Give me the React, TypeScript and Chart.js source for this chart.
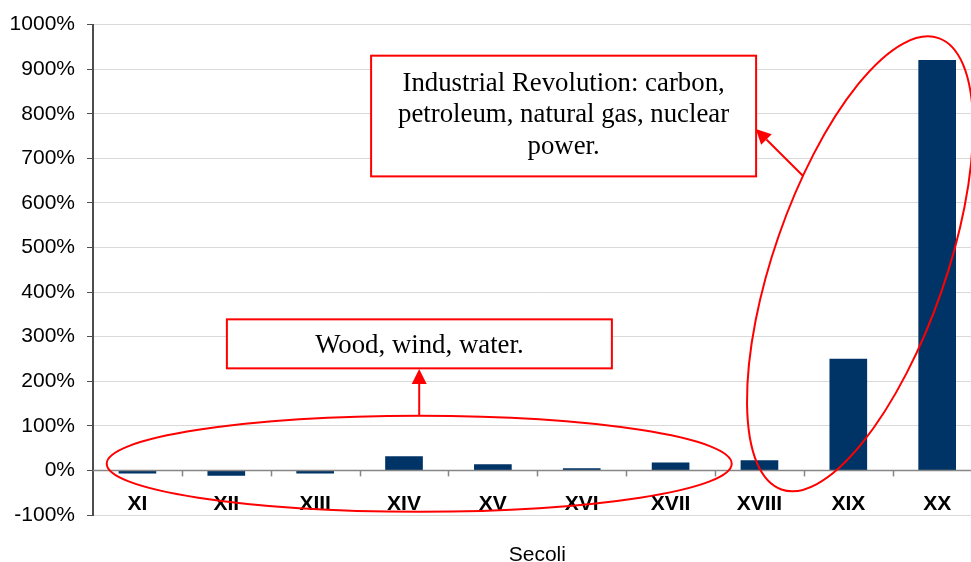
import React, { useEffect, useRef } from "react";
import { Chart, registerables } from "chart.js";

Chart.register(...registerables);

// ---- data ----
const categories = ["XI", "XII", "XIII", "XIV", "XV", "XVI", "XVII", "XVIII", "XIX", "XX"];
const growthPercent = [-6, -11, -6, 31, 13, 4, 17, 22, 250, 920];
const yMin = -100;
const yMax = 1000;
const yStep = 100;
const xAxisTitle = "Secoli";
const noteEarly = ["Wood, wind, water."];
const noteIndustrial = ["Industrial Revolution: carbon,", "petroleum, natural gas, nuclear", "power."];

const RED = "#ff0000";
const SANS = '"Liberation Sans", Arial, sans-serif';
const SERIF = '"Liberation Serif", "Times New Roman", serif';

function arrow(ctx: CanvasRenderingContext2D, x1: number, y1: number, x2: number, y2: number) {
  const ang = Math.atan2(y2 - y1, x2 - x1);
  const len = 15;
  const hw = 7.5;
  const bx = x2 - len * Math.cos(ang);
  const by = y2 - len * Math.sin(ang);
  ctx.beginPath();
  ctx.moveTo(x1, y1);
  ctx.lineTo(bx, by);
  ctx.stroke();
  ctx.beginPath();
  ctx.moveTo(x2, y2);
  ctx.lineTo(bx + hw * Math.sin(ang), by - hw * Math.cos(ang));
  ctx.lineTo(bx - hw * Math.sin(ang), by + hw * Math.cos(ang));
  ctx.closePath();
  ctx.fill();
}

function noteBox(
  ctx: CanvasRenderingContext2D,
  cx: number,
  cy: number,
  w: number,
  h: number,
  lines: string[],
  firstBaseline: number,
  lineGap: number
) {
  const left = cx - w / 2;
  const top = cy - h / 2;
  ctx.fillStyle = "#ffffff";
  ctx.fillRect(left, top, w, h);
  ctx.strokeStyle = RED;
  ctx.lineWidth = 2;
  ctx.strokeRect(left, top, w, h);
  ctx.fillStyle = "#000000";
  ctx.font = `26.8px ${SERIF}`;
  ctx.textAlign = "center";
  ctx.textBaseline = "alphabetic";
  lines.forEach((ln, k) => ctx.fillText(ln, cx, top + firstBaseline + k * lineGap));
}

const overlayPlugin = {
  id: "overlay",
  afterDatasetsDraw(chart: any) {
    const { ctx, chartArea, scales } = chart;
    const x = scales.x;
    const y = scales.y;
    const y0 = y.getPixelForValue(0);
    ctx.save();
    // zero axis line
    ctx.strokeStyle = "#868686";
    ctx.lineWidth = 1.5;
    ctx.beginPath();
    ctx.moveTo(chartArea.left, y0);
    ctx.lineTo(chartArea.right, y0);
    ctx.stroke();
    // tick marks at category boundaries
    for (let k = 0; k < categories.length; k++) {
      const bx = Math.round(x.getPixelForValue(k + 0.5)) + 0.5;
      ctx.beginPath();
      ctx.moveTo(bx, y0);
      ctx.lineTo(bx, y0 + 6);
      ctx.stroke();
    }
    // category labels
    ctx.fillStyle = "#000000";
    ctx.font = `bold 21px ${SANS}`;
    ctx.textAlign = "center";
    ctx.textBaseline = "alphabetic";
    categories.forEach((c, i) => ctx.fillText(c, x.getPixelForValue(i), y0 + 39.5));
    // axis title
    ctx.font = `21px ${SANS}`;
    ctx.fillText(xAxisTitle, (chartArea.left + chartArea.right) / 2, 560.5);
    ctx.restore();
  },
  afterDraw(chart: any) {
    const { ctx, scales } = chart;
    const X = (v: number) => scales.x.getPixelForValue(v);
    const Y = (v: number) => scales.y.getPixelForValue(v);
    ctx.save();
    ctx.strokeStyle = RED;
    ctx.fillStyle = RED;
    ctx.lineWidth = 2;

    // ellipse around the pre-industrial centuries
    ctx.beginPath();
    ctx.ellipse(X(3.171), Y(15), 312.5, 48, 0, 0, Math.PI * 2);
    ctx.stroke();
    // arrow up to "Wood, wind, water."
    arrow(ctx, X(3.171), Y(122.4), X(3.171), Y(227.5));

    // rotated ellipse around industrial centuries
    ctx.beginPath();
    ctx.ellipse(X(8.132), Y(463.5), 239, 86, (-70.8 * Math.PI) / 180, 0, Math.PI * 2);
    ctx.stroke();
    // arrow to industrial box
    ctx.fillStyle = RED;
    arrow(ctx, X(7.494), Y(660), X(6.959), Y(766));

    // note boxes
    noteBox(ctx, X(3.173), Y(283.9), 385, 49, noteEarly, 34, 31.7);
    noteBox(ctx, X(4.796), Y(794.9), 385, 120.7, noteIndustrial, 35, 31.7);
    ctx.restore();
  },
};

export default function App() {
  const canvasRef = useRef<HTMLCanvasElement | null>(null);

  useEffect(() => {
    const canvas = canvasRef.current;
    if (!canvas) return;
    const chart = new Chart(canvas, {
      type: "bar",
      data: {
        labels: categories,
        datasets: [
          {
            data: growthPercent,
            backgroundColor: "#003366",
            borderWidth: 0,
            barThickness: 37,
          },
        ],
      },
      options: {
        responsive: false,
        animation: false,
        devicePixelRatio: 1,
        layout: { padding: { left: 0, right: 8.4, top: 23.3, bottom: 47 } },
        plugins: {
          legend: { display: false },
          tooltip: { enabled: false },
          title: { display: false },
        },
        scales: {
          x: {
            display: false,
            offset: true,
          },
          y: {
            min: yMin,
            max: yMax,
            afterFit: (scale: any) => {
              scale.width = 93;
            },
            ticks: {
              stepSize: yStep,
              padding: 12,
              color: "#000000",
              font: { family: SANS, size: 21 },
              callback: (v: any) => `${v}%`,
            },
            grid: {
              color: "#d9d9d9",
              lineWidth: 1,
              tickLength: 6,
              tickColor: "#4d4d4d",
            },
            border: { color: "#4d4d4d", width: 2 },
          },
        },
      },
      plugins: [overlayPlugin],
    });
    return () => chart.destroy();
  }, []);

  return (
    <div
      style={{
        position: "absolute",
        left: 0,
        top: 0,
        width: 971,
        height: 562,
        overflow: "hidden",
        background: "#ffffff",
      }}
    >
      <canvas ref={canvasRef} width={990} height={562} style={{ width: 990, height: 562, display: "block" }} />
    </div>
  );
}
